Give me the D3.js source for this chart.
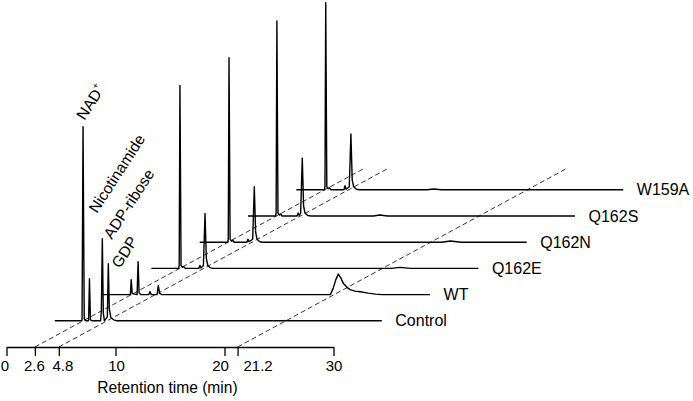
<!DOCTYPE html>
<html>
<head>
<meta charset="utf-8">
<script src="https://cdn.jsdelivr.net/npm/d3@7"></script>
<style>
  html, body { margin: 0; padding: 0; background: #fff; }
  svg { display: block; font-family: "Liberation Sans", Arial, sans-serif; }
</style>
</head>
<body>
<svg id="chart" width="693" height="401"></svg>
<script>
// ---------------- data (retention time in min, detector signal in arbitrary units) ----------------
const traceNames = ["Control", "WT", "Q162E", "Q162N", "Q162S", "W159A"];

const controlTrace = [[0,0],[2.45,0],[2.5,1],[2.59,194],[2.7,2],[2.85,0],[3.1,0],[3.18,42],[3.27,1],[3.4,0],
  [4.2,0],[4.27,10],[4.36,82],[4.45,8],[4.55,0],[4.82,4],[4.91,57],[5.0,12],[5.15,3],[5.4,1],[5.7,0],[30,0]];
const wtTrace = [[0,0],[2.5,0],[2.58,15],[2.67,1],[3.12,0],[3.21,33],[3.3,2],[3.45,0],[4.2,0],[4.3,3],[4.42,0],
  [4.95,0],[5.06,9],[5.2,1],[5.4,0],[20.85,0],[21.1,6],[21.35,15],[21.58,20.5],[21.8,17],[22.05,11],[22.35,7.5],
  [22.65,5],[23.1,3.5],[23.6,2.8],[24.3,1.5],[25,0.5],[25.6,0],[30,0]];
const q162eTrace = [[0,0],[2.5,0],[2.55,3],[2.62,183],[2.72,3],[2.85,1],[2.95,2],[3.1,0],[4.35,0],[4.45,3],[4.55,0.5],
  [4.77,3],[4.92,55],[5.04,10],[5.17,3],[5.42,0.5],[5.7,0],[22.0,0],[22.8,1],[23.8,0],[30,0]];
const q162nTrace = [[0,0],[2.57,0],[2.62,3],[2.69,184.5],[2.79,3],[2.92,1],[3.02,2],[3.17,0],[4.33,0],[4.43,3],[4.53,0.5],
  [4.86,3],[5.01,55.5],[5.13,10],[5.26,3],[5.51,0.5],[5.8,0],[22.2,0],[23.0,1.2],[24.0,0],[30,0]];
const q162sTrace = [[0,0],[2.53,0],[2.58,3],[2.65,195],[2.75,3],[2.88,1],[2.98,2],[3.13,0],[4.5,0],[4.6,3],[4.7,0.5],
  [4.83,3],[4.98,57.7],[5.1,10],[5.23,3],[5.48,0.5],[5.8,0],[11.5,0],[12.1,1],[12.8,0],[30,0]];
const w159aTrace = [[0,0],[2.58,0],[2.63,3],[2.70,187],[2.8,3],[2.93,1],[3.03,2],[3.18,0],[4.37,0],[4.47,4],[4.57,0.5],
  [4.86,3],[5.01,55.8],[5.13,10],[5.26,3],[5.51,0.5],[5.8,0],[12.0,0],[12.6,0.8],[13.3,0],[30,0]];
const traces = [controlTrace, wtTrace, q162eTrace, q162nTrace, q162sTrace, w159aTrace];

const peakNames = ["NAD", "Nicotinamide", "ADP-ribose", "GDP"];
const peakTimes = [2.59, 3.18, 4.36, 4.91];

const tickValues = [0, 2.6, 4.8, 10, 20, 21.2, 30];
const tickLabels = ["0", "2.6", "4.8", "10", "20", "21.2", "30"];
const guideTimes = [2.6, 4.8, 21.2];
const xTitle = "Retention time (min)";

// ---------------- layout ----------------
const svg = d3.select("#chart");
const originX = 6.5, originY = 347;      // axis origin (0 min)
const stepX = 48.3, stepY = 26.2;        // offset between stacked traces
const guideLevels = 6.8;                 // dashed guide length in steps
const tickLabelDx = [-2, -1, 3.5, 0.5, -4.5, 20, 0];

const x = d3.scaleLinear().domain([0, 30]).range([0, 327]);
const y = d3.scaleLinear().domain([0, 200]).range([0, -200]);

// dashed guides
svg.append("g").selectAll("line").data(guideTimes).join("line")
  .attr("x1", d => originX + x(d))
  .attr("y1", originY)
  .attr("x2", d => originX + x(d) + guideLevels * stepX)
  .attr("y2", originY - guideLevels * stepY)
  .attr("stroke", "#000").attr("stroke-width", 0.8)
  .attr("stroke-dasharray", "5,3");

// axis
const axis = d3.axisBottom(x)
  .tickValues(tickValues)
  .tickFormat((d, i) => tickLabels[i])
  .tickSizeInner(9).tickSizeOuter(0).tickPadding(4);
const gAxis = svg.append("g").attr("transform", `translate(${originX},${originY})`).call(axis);
gAxis.attr("font-size", null).attr("font-family", null);
gAxis.select(".domain").attr("stroke-width", 1.3);
gAxis.selectAll(".tick line").attr("stroke-width", 1.3);
gAxis.selectAll(".tick text")
  .attr("font-size", 15).attr("fill", "#000")
  .attr("dx", (d, i) => tickLabelDx[i]);
svg.append("text").attr("x", 167.5).attr("y", 392.5).attr("text-anchor", "middle")
  .attr("font-size", 15.6).text(xTitle);

// traces
const line = d3.line().x(d => x(d[0])).y(d => y(d[1]));
traces.forEach((tr, k) => {
  const g = svg.append("g")
    .attr("transform", `translate(${originX + (k + 1) * stepX},${originY - (k + 1) * stepY})`);
  g.append("path").datum(tr).attr("d", line)
    .attr("fill", "none").attr("stroke", "#000").attr("stroke-width", 1.4)
    .attr("stroke-linejoin", "round");
  g.append("text").attr("x", x(30) + 13.5).attr("y", 0)
    .attr("dominant-baseline", "central").attr("font-size", 16).text(traceNames[k]);
});

// peak labels on control trace
const labelDx = [1.5, 7.5, 9.5, 11.5];
const labelY = [121, 214, 240, 269];
const ctrlX = originX + stepX;
peakNames.forEach((name, i) => {
  const lx = ctrlX + x(peakTimes[i]) + labelDx[i];
  const t = svg.append("text")
    .attr("transform", `translate(${lx},${labelY[i]}) rotate(-57)`)
    .attr("font-size", 15.5);
  t.append("tspan").text(name);
  if (i === 0) t.append("tspan").attr("font-size", 9.5).attr("dy", -7).text("+");
});
</script>
</body>
</html>
